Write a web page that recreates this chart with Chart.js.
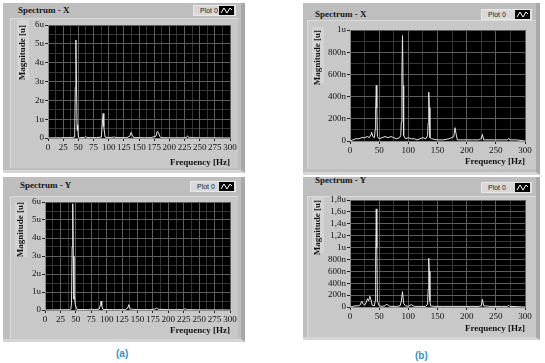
<!DOCTYPE html>
<html lang="en">
<head>
<meta charset="UTF-8">
<title>Spectrum X / Y</title>
<script src="https://cdn.jsdelivr.net/npm/chart.js"></script>
<style>
  body { margin:0; width:545px; height:363px; background:#fff; position:relative; overflow:hidden; }
  .panel { position:absolute; background:#bebebe; border-right:4px solid #a8a8a8; border-bottom:3px solid #d6d6d6; box-sizing:border-box; }
  .inner { position:absolute; background:#c8c8c8; border-top:1px solid #dadada; border-left:1px solid #dadada; box-sizing:border-box; }
  .title { position:absolute; font:bold 9px 'Liberation Serif', serif; color:#151515; line-height:10px; }
  .legend { position:absolute; height:11px; background:#d8d8d8; border:1px solid #e8e8e8; box-sizing:border-box; font:7px 'Liberation Sans', sans-serif; color:#222; line-height:9px; padding-left:6px; }
  .legend svg { position:absolute; right:1px; top:0px; width:15px; height:9px; background:#000; }
  .ybox { position:absolute; background:#d4d4d4; }
  canvas { position:absolute; }
  .tag { position:absolute; font:bold 10px 'Liberation Sans', sans-serif; color:#3b8fc2; }
</style>
</head>
<body>
<!-- panels -->
<div class="panel" style="left:3px;top:3px;width:242px;height:170px"></div>
<div class="inner" style="left:10px;top:18px;width:228px;height:150px"></div>
<div class="panel" style="left:3px;top:177px;width:242px;height:165px"></div>
<div class="inner" style="left:10px;top:196px;width:228px;height:143px"></div>
<div class="panel" style="left:303px;top:3px;width:237px;height:172px"></div>
<div class="inner" style="left:307px;top:20px;width:229px;height:149px"></div>
<div class="panel" style="left:303px;top:177px;width:237px;height:163px"></div>
<div class="inner" style="left:307px;top:196px;width:229px;height:141px"></div>

<div class="ybox" style="left:17px;top:20px;width:12px;height:60px"></div>
<div class="ybox" style="left:15px;top:202px;width:12px;height:55px"></div>
<div class="ybox" style="left:312px;top:27px;width:12px;height:56px"></div>
<div class="ybox" style="left:312px;top:197px;width:12px;height:56px"></div>

<div class="title" style="left:18px;top:5px">Spectrum - X</div>
<div class="title" style="left:20px;top:180px">Spectrum - Y</div>
<div class="title" style="left:315px;top:9px">Spectrum - X</div>
<div class="title" style="left:315px;top:175px">Spectrum - Y</div>

<div class="legend" style="left:193px;top:5px;width:43px">Plot 0<svg viewBox="0 0 15 9"><polyline points="2,7 5,2 8,7 11,2 13,4" fill="none" stroke="#fff" stroke-width="1"/></svg></div>
<div class="legend" style="left:190px;top:181px;width:46px">Plot 0<svg viewBox="0 0 15 9"><polyline points="2,7 5,2 8,7 11,2 13,4" fill="none" stroke="#fff" stroke-width="1"/></svg></div>
<div class="legend" style="left:481px;top:9px;width:51px">Plot 0<svg viewBox="0 0 15 9"><polyline points="2,7 5,2 8,7 11,2 13,4" fill="none" stroke="#fff" stroke-width="1"/></svg></div>
<div class="legend" style="left:481px;top:182px;width:51px">Plot 0<svg viewBox="0 0 15 9"><polyline points="2,7 5,2 8,7 11,2 13,4" fill="none" stroke="#fff" stroke-width="1"/></svg></div>

<canvas id="specAX"></canvas>
<canvas id="specAY"></canvas>
<canvas id="specBX"></canvas>
<canvas id="specBY"></canvas>

<div class="tag" style="left:116px;top:348px">(a)</div>
<div class="tag" style="left:415px;top:350px">(b)</div>

<script>
// magnitudes are in micro-units (u)
var freqAX = [0, 10, 20, 30, 40, 43, 44, 45, 46, 47, 48, 49, 50, 52, 60, 62, 64, 70, 80, 88, 90, 91, 92, 94, 100, 110, 112, 120, 130, 135, 137, 139, 141, 150, 160, 170, 178, 180, 182, 184, 186, 200, 220, 228, 230, 232, 250, 270, 300];
var magAX = [0, 0.01, 0.01, 0.02, 0.02, 0.05, 0.3, 2.7, 5.2, 2.7, 0.4, 0.7, 0.05, 0.02, 0.03, 0.08, 0.03, 0.02, 0.02, 0.05, 1.0, 1.3, 0.6, 0.05, 0.02, 0.05, 0.02, 0.02, 0.02, 0.1, 0.3, 0.15, 0.02, 0.02, 0.01, 0.02, 0.1, 0.35, 0.3, 0.1, 0.02, 0.01, 0.01, 0.02, 0.12, 0.02, 0.01, 0.01, 0];

var freqAY = [0, 20, 40, 42, 43, 44, 45, 46, 47, 48, 49, 52, 70, 75, 80, 88, 90, 91, 92, 94, 110, 130, 134, 136, 138, 150, 170, 179, 181, 183, 200, 225, 227, 229, 250, 300];
var magAY = [0, 0.01, 0.02, 0.05, 0.4, 3.5, 5.9, 3.0, 0.6, 0.75, 0.3, 0.03, 0.02, 0.05, 0.02, 0.05, 0.3, 0.5, 0.25, 0.03, 0.02, 0.02, 0.1, 0.3, 0.05, 0.02, 0.02, 0.05, 0.12, 0.04, 0.02, 0.02, 0.08, 0.02, 0.01, 0];

var freqBX = [0, 5, 10, 15, 20, 25, 30, 33, 36, 37, 39, 42, 43, 44, 45, 46, 47, 50, 55, 60, 65, 70, 75, 80, 85, 87, 88, 89, 90, 91, 92, 95, 100, 105, 110, 115, 120, 125, 130, 133, 134, 135, 136, 137, 140, 150, 160, 170, 178, 180, 182, 184, 190, 200, 210, 220, 225, 227, 229, 240, 250, 260, 270, 272, 274, 285, 300];
var magBX = [0, 0.01, 0.02, 0.02, 0.03, 0.03, 0.04, 0.03, 0.06, 0.08, 0.04, 0.03, 0.1, 0.27, 0.5, 0.3, 0.04, 0.02, 0.03, 0.04, 0.03, 0.04, 0.03, 0.02, 0.03, 0.05, 0.17, 0.6, 0.95, 0.5, 0.05, 0.02, 0.03, 0.02, 0.02, 0.01, 0.02, 0.03, 0.02, 0.05, 0.16, 0.44, 0.3, 0.03, 0.02, 0.01, 0.01, 0.02, 0.04, 0.12, 0.06, 0.01, 0.01, 0.01, 0.01, 0.01, 0.02, 0.06, 0.01, 0.01, 0.01, 0.01, 0.01, 0.025, 0.01, 0.01, 0];

var freqBY = [0, 5, 10, 15, 18, 20, 22, 25, 28, 30, 32, 34, 36, 38, 42, 43, 44, 45, 46, 47, 50, 55, 60, 63, 66, 70, 80, 86, 88, 90, 92, 95, 100, 105, 110, 120, 130, 133, 134, 135, 136, 137, 138, 145, 160, 180, 200, 220, 225, 227, 229, 240, 260, 270, 272, 274, 300];
var magBY = [0, 0.01, 0.02, 0.02, 0.04, 0.1, 0.06, 0.03, 0.08, 0.14, 0.1, 0.18, 0.12, 0.03, 0.02, 0.1, 0.8, 1.65, 1.0, 0.1, 0.02, 0.01, 0.02, 0.05, 0.02, 0.01, 0.01, 0.02, 0.1, 0.26, 0.06, 0.02, 0.01, 0.04, 0.01, 0.01, 0.01, 0.05, 0.3, 0.82, 0.6, 0.1, 0.02, 0.01, 0.01, 0.01, 0.01, 0.01, 0.02, 0.13, 0.02, 0.01, 0.01, 0.01, 0.03, 0.01, 0];

var xLabelsA = ['0', '25', '50', '75', '100', '125', '150', '175', '200', '225', '250', '275', '300'];
var xLabelsB = ['0', '50', '100', '150', '200', '250', '300'];
var yLabelsA = ['0', '1u', '2u', '3u', '4u', '5u', '6u'];
var yLabelsBX = ['0', '200n', '400n', '600n', '800n', '1u'];
var yLabelsBY = ['0', '200n', '400n', '600n', '800n', '1u', '1,2u', '1,4u', '1,6u', '1,8u'];

// black plotting area
var plotBg = {
    id: 'plotBg',
    beforeDraw: function(chart) {
        var a = chart.chartArea, ctx = chart.ctx;
        ctx.save();
        ctx.fillStyle = '#000';
        ctx.fillRect(a.left, a.top, a.right - a.left, a.bottom - a.top);
        ctx.restore();
    }
};

var tickFont = { family: "'Liberation Serif', serif", size: 9 };
var titleFont = { family: "'Liberation Serif', serif", size: 9, weight: 'bold' };

// canvas: [left, top, right, bottom], plot: [left, top, right, bottom], all page px
function spectrum(id, freq, mag, yMax, yStep, yLabels, xStep, xLabels, canvas, plot, yTitleX) {
    var cv = document.getElementById(id);
    cv.style.left = canvas[0] + 'px';
    cv.style.top = canvas[1] + 'px';
    cv.width = canvas[2] - canvas[0];
    cv.height = canvas[3] - canvas[1];
    var leftW = plot[0] - canvas[0];
    var bottomH = canvas[3] - plot[3];
    var pts = freq.map(function(f, i) { return { x: f, y: mag[i] }; });

    return new Chart(cv, {
        type: 'line',
        data: { datasets: [{ data: pts, borderColor: '#e6e6e6', borderWidth: 1, pointRadius: 0, tension: 0 }] },
        options: {
            responsive: false,
            animation: false,
            devicePixelRatio: 1,
            layout: { padding: { top: plot[1] - canvas[1], right: canvas[2] - plot[2], left: 0, bottom: 0 } },
            plugins: { legend: { display: false }, tooltip: { enabled: false } },
            scales: {
                xMinor: {
                    type: 'linear', position: 'bottom', min: 0, max: 300,
                    afterFit: function(s) { s.height = 0; },
                    ticks: { display: false, stepSize: xStep / 2, maxTicksLimit: 1000 },
                    grid: { color: '#353535', drawTicks: false },
                    border: { display: false }
                },
                yMinor: {
                    type: 'linear', position: 'left', min: 0, max: yMax,
                    afterFit: function(s) { s.width = 0; },
                    ticks: { display: false, stepSize: yStep / 2, maxTicksLimit: 1000 },
                    grid: { color: '#353535', drawTicks: false },
                    border: { display: false }
                },
                x: {
                    type: 'linear', position: 'bottom', min: 0, max: 300,
                    afterFit: function(s) { s.height = bottomH; },
                    ticks: {
                        stepSize: xStep, autoSkip: false, maxRotation: 0, padding: 1,
                        color: '#111', font: tickFont,
                        callback: function(v, i) { return xLabels[i]; }
                    },
                    grid: { color: '#5e5e5e', tickColor: '#222', tickLength: 3 },
                    border: { color: '#8a8a8a' },
                    title: {
                        display: true, text: 'Frequency [Hz]', align: 'end', color: '#111',
                        font: titleFont, padding: { top: 0, bottom: 0 }
                    }
                },
                y: {
                    type: 'linear', position: 'left', min: 0, max: yMax,
                    afterFit: function(s) { s.width = leftW; },
                    ticks: {
                        stepSize: yStep, autoSkip: false, padding: 1,
                        color: '#111', font: tickFont,
                        callback: function(v, i) { return yLabels[i]; }
                    },
                    grid: { color: '#5e5e5e', tickColor: '#222', tickLength: 3 },
                    border: { color: '#8a8a8a' },
                    title: {
                        display: true, text: 'Magnitude [u]', align: 'end', color: '#111',
                        font: titleFont, padding: { top: yTitleX - canvas[0] - 5.4, bottom: 0 }
                    }
                }
            }
        },
        plugins: [plotBg]
    });
}

spectrum('specAX', freqAX, magAX, 6, 1, yLabelsA, 25, xLabelsA, [12, 18, 240, 168], [48, 25, 230, 138], 23);
spectrum('specAY', freqAY, magAY, 6, 1, yLabelsA, 25, xLabelsA, [10, 195, 242, 336], [45, 202, 230, 310], 21);
spectrum('specBX', freqBX, magBX, 1, 0.2, yLabelsBX, 50, xLabelsB, [305, 20, 540, 167], [350, 30, 525, 141], 318);
spectrum('specBY', freqBY, magBY, 1.8, 0.2, yLabelsBY, 50, xLabelsB, [305, 193, 540, 334], [350, 200, 525, 307], 318);
</script>
</body>
</html>
